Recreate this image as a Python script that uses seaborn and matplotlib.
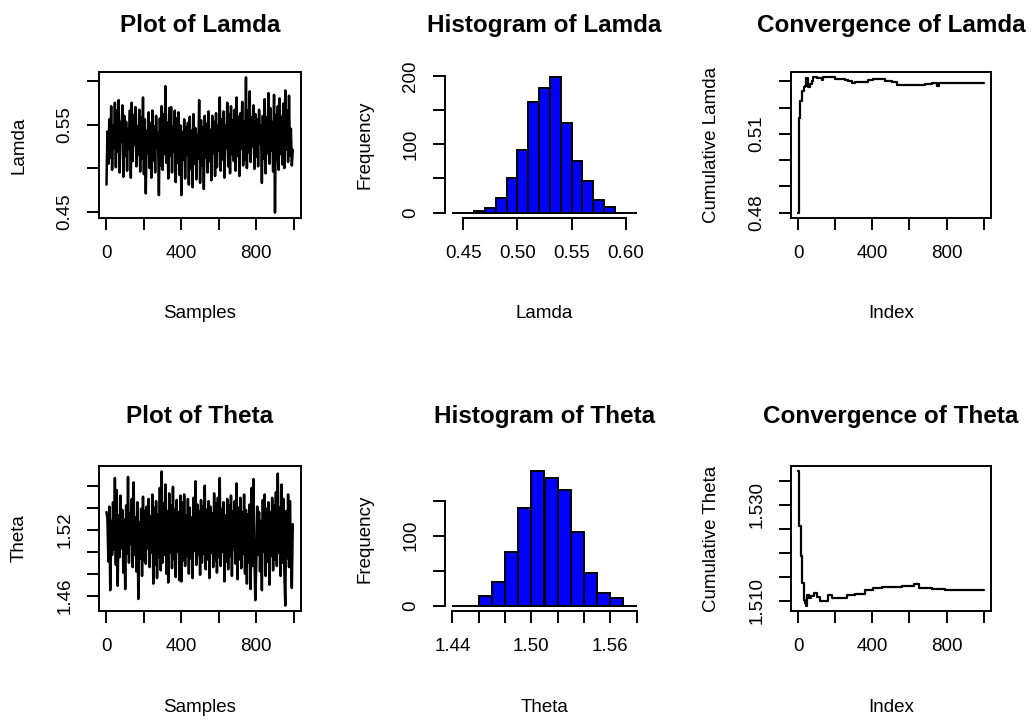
import numpy as np
import pandas as pd
import matplotlib
matplotlib.use("Agg")
import matplotlib.pyplot as plt
import seaborn as sns

# ---------------- data ----------------
N_SAMPLES = 1000
trace_index = list(range(1, N_SAMPLES, 5))  # every 5th MCMC draw

lamda_trace = [
    0.481, 0.542, 0.505, 0.556, 0.512, 0.571, 0.498, 0.549, 0.523, 0.575,
    0.501, 0.566, 0.519, 0.578, 0.495, 0.553, 0.531, 0.572, 0.490, 0.560,
    0.514, 0.553, 0.497, 0.545, 0.522, 0.566, 0.489, 0.575, 0.508, 0.561,
    0.527, 0.570, 0.502, 0.548, 0.515, 0.567, 0.496, 0.558, 0.511, 0.581,
    0.493, 0.556, 0.471, 0.543, 0.517, 0.564, 0.500, 0.552, 0.489, 0.566,
    0.509, 0.548, 0.495, 0.560, 0.522, 0.541, 0.469, 0.557, 0.503, 0.571,
    0.498, 0.562, 0.516, 0.594, 0.506, 0.552, 0.488, 0.569, 0.514, 0.570,
    0.495, 0.548, 0.519, 0.566, 0.484, 0.557, 0.506, 0.564, 0.492, 0.549,
    0.469, 0.541, 0.510, 0.556, 0.488, 0.547, 0.515, 0.552, 0.481, 0.559,
    0.499, 0.543, 0.478, 0.562, 0.505, 0.546, 0.487, 0.538, 0.511, 0.578,
    0.483, 0.555, 0.503, 0.547, 0.476, 0.560, 0.512, 0.551, 0.495, 0.565,
    0.508, 0.544, 0.486, 0.560, 0.517, 0.553, 0.491, 0.563, 0.501, 0.549,
    0.520, 0.581, 0.497, 0.556, 0.510, 0.565, 0.489, 0.549, 0.523, 0.575,
    0.502, 0.562, 0.494, 0.571, 0.516, 0.555, 0.508, 0.567, 0.497, 0.581,
    0.514, 0.559, 0.491, 0.563, 0.522, 0.576, 0.503, 0.553, 0.510, 0.604,
    0.500, 0.566, 0.518, 0.588, 0.507, 0.558, 0.525, 0.572, 0.499, 0.562,
    0.513, 0.556, 0.502, 0.567, 0.528, 0.549, 0.483, 0.560, 0.511, 0.579,
    0.494, 0.558, 0.517, 0.586, 0.505, 0.569, 0.520, 0.553, 0.496, 0.584,
    0.449, 0.561, 0.509, 0.571, 0.498, 0.580, 0.516, 0.559, 0.504, 0.574,
    0.500, 0.589, 0.521, 0.566, 0.507, 0.583, 0.514, 0.545, 0.503, 0.521,
]

theta_trace = [
    1.536, 1.530, 1.491, 1.541, 1.465, 1.528, 1.497, 1.545, 1.502, 1.567,
    1.488, 1.556, 1.469, 1.533, 1.495, 1.551, 1.503, 1.538, 1.481, 1.529,
    1.466, 1.542, 1.498, 1.568, 1.490, 1.535, 1.507, 1.548, 1.486, 1.563,
    1.497, 1.531, 1.482, 1.545, 1.457, 1.527, 1.494, 1.539, 1.478, 1.550,
    1.492, 1.537, 1.489, 1.541, 1.503, 1.548, 1.486, 1.532, 1.499, 1.552,
    1.471, 1.540, 1.488, 1.546, 1.476, 1.534, 1.495, 1.558, 1.483, 1.573,
    1.490, 1.544, 1.497, 1.561, 1.480, 1.537, 1.472, 1.553, 1.499, 1.542,
    1.485, 1.559, 1.493, 1.538, 1.477, 1.547, 1.500, 1.536, 1.474, 1.551,
    1.473, 1.545, 1.492, 1.552, 1.487, 1.533, 1.496, 1.548, 1.480, 1.540,
    1.494, 1.531, 1.476, 1.549, 1.501, 1.564, 1.488, 1.543, 1.497, 1.537,
    1.479, 1.547, 1.490, 1.541, 1.498, 1.560, 1.484, 1.538, 1.493, 1.546,
    1.476, 1.541, 1.499, 1.535, 1.486, 1.553, 1.492, 1.544, 1.481, 1.549,
    1.495, 1.567, 1.487, 1.539, 1.500, 1.545, 1.473, 1.533, 1.491, 1.548,
    1.484, 1.542, 1.496, 1.551, 1.478, 1.537, 1.502, 1.546, 1.489, 1.562,
    1.475, 1.540, 1.493, 1.549, 1.485, 1.536, 1.498, 1.552, 1.480, 1.538,
    1.471, 1.534, 1.490, 1.543, 1.466, 1.558, 1.487, 1.566, 1.494, 1.456,
    1.488, 1.541, 1.497, 1.536, 1.482, 1.528, 1.465, 1.547, 1.500, 1.552,
    1.478, 1.539, 1.491, 1.545, 1.470, 1.536, 1.496, 1.549, 1.483, 1.542,
    1.493, 1.554, 1.487, 1.571, 1.499, 1.540, 1.478, 1.561, 1.490, 1.548,
    1.482, 1.451, 1.537, 1.494, 1.552, 1.486, 1.546, 1.498, 1.467, 1.525,
]

lamda_edges = [0.44, 0.45, 0.46, 0.47, 0.48, 0.49, 0.50, 0.51, 0.52,
               0.53, 0.54, 0.55, 0.56, 0.57, 0.58, 0.59, 0.60, 0.61]
lamda_counts = [0, 0, 3, 6, 22, 50, 91, 162, 182, 198, 131, 75, 47, 18, 8, 0, 0]

theta_edges = [1.44, 1.45, 1.46, 1.47, 1.48, 1.49, 1.50, 1.51,
               1.52, 1.53, 1.54, 1.55, 1.56, 1.57, 1.58]
theta_counts = [0, 0, 14, 34, 76, 140, 192, 183, 165, 106, 46, 18, 11, 0]

lamda_conv_index = [1, 2, 9, 11, 18, 22, 29, 36, 43, 54, 63, 72, 81, 99, 126,
                    135, 153, 198, 216, 252, 270, 288, 306, 378, 405, 468, 504,
                    531, 612, 684, 720, 747, 757, 1000]
lamda_conv = [0.4800, 0.5162, 0.5168, 0.5226, 0.5230, 0.5264, 0.5277, 0.5283,
              0.5312, 0.5277, 0.5290, 0.5303, 0.5315, 0.5312, 0.5306, 0.5315,
              0.5315, 0.5309, 0.5309, 0.5306, 0.5303, 0.5294, 0.5299, 0.5306,
              0.5309, 0.5300, 0.5296, 0.5286, 0.5286, 0.5289, 0.5292, 0.5283,
              0.5294, 0.5294]

theta_conv_index = [1, 2, 13, 14, 18, 23, 31, 36, 41, 49, 58, 68, 86, 99, 117,
                    144, 162, 180, 225, 252, 261, 306, 360, 405, 450, 486, 559,
                    622, 649, 721, 784, 793, 901, 955, 1000]
theta_conv = [1.5369, 1.5256, 1.5256, 1.5194, 1.5177, 1.5136, 1.5101, 1.5095,
              1.5090, 1.5113, 1.5105, 1.5110, 1.5117, 1.5108, 1.5100, 1.5100,
              1.5112, 1.5105, 1.5105, 1.5105, 1.5112, 1.5115, 1.5122, 1.5127,
              1.5128, 1.5129, 1.5131, 1.5134, 1.5127, 1.5125, 1.5124, 1.5122,
              1.5122, 1.5123, 1.5122]

sample_ticks = [0, 200, 400, 600, 800, 1000]
sample_ticklabels = ["0", "", "400", "", "800", ""]

# ---------------- style ----------------
sns.set_style("ticks")
plt.rcParams["font.family"] = ["Liberation Sans", "DejaVu Sans"]
plt.rcParams["axes.linewidth"] = 1.4
plt.rcParams["text.color"] = "black"
plt.rcParams["axes.labelcolor"] = "black"
plt.rcParams["xtick.color"] = "black"
plt.rcParams["ytick.color"] = "black"

W, H = 1032, 722
fig = plt.figure(figsize=(W / 100, H / 100), dpi=100)
fig.patch.set_facecolor("white")

COL_LEFT = [99, 445, 791]
COL_W = [202, 199, 200]
ROW_TOP = [72, 466]
ROW_H = [146, 145]
TITLE_GAP = [40, 43]

TICK_FS = 13.5
LABEL_FS = 13.5
TITLE_FS = 17.5


def make_ax(r, c):
    left = COL_LEFT[c] / W
    bottom = 1 - (ROW_TOP[r] + ROW_H[r]) / H
    ax = fig.add_axes([left, bottom, COL_W[c] / W, ROW_H[r] / H])
    return ax


def r_lim(vals):
    lo, hi = min(vals), max(vals)
    d = (hi - lo) * 0.04
    return lo - d, hi + d


def style(ax, r, c, title, xlabel, ylabel):
    h = ROW_H[r]
    w = COL_W[c]
    ax.set_title(title, fontsize=TITLE_FS, fontweight="bold", pad=0,
                 y=1 + TITLE_GAP[r] / h, va="baseline", color="black")
    ax.set_xlabel(xlabel, fontsize=LABEL_FS, va="center", color="black")
    ax.set_ylabel(ylabel, fontsize=LABEL_FS, va="center", color="black")
    ax.xaxis.set_label_coords(0.5, -96 / h)
    ax.yaxis.set_label_coords(-80 / w, 0.5)
    ax.tick_params(axis="both", direction="out", length=8.5, width=1.4,
                   labelsize=TICK_FS, color="black", labelcolor="black")
    ax.tick_params(axis="x", pad=11)
    ax.tick_params(axis="y", pad=10, labelrotation=90)
    for lab in ax.get_yticklabels():
        lab.set_va("center")
        lab.set_ha("right")
    for s in ax.spines.values():
        s.set_color("black")
        s.set_linewidth(1.4)


def trace_panel(r, values, name, yticks, yticklabels):
    ax = make_ax(r, 0)
    sns.lineplot(x=trace_index, y=values, ax=ax, color="black",
                 linewidth=1.8, estimator=None, sort=False)
    ax.set_xlim(1 - 0.04 * (N_SAMPLES - 1), N_SAMPLES + 0.04 * (N_SAMPLES - 1))
    ax.set_ylim(*r_lim(values))
    ax.set_xticks(sample_ticks)
    ax.set_xticklabels(sample_ticklabels)
    ax.set_yticks(yticks)
    ax.set_yticklabels(yticklabels)
    style(ax, r, 0, f"Plot of {name}", "Samples", name)


def hist_panel(r, edges, counts, name, xticks, xticklabels, yticks, yticklabels):
    ax = make_ax(r, 1)
    centers = [(a + b) / 2 for a, b in zip(edges[:-1], edges[1:])]
    sns.histplot(x=centers, weights=counts, bins=edges, ax=ax,
                 color="#0000FF", edgecolor="black", linewidth=1.4, alpha=1)
    span = edges[-1] - edges[0]
    ax.set_xlim(edges[0] - 0.04 * span, edges[-1] + 0.04 * span)
    top = max(counts)
    ax.set_ylim(-0.04 * top, 1.04 * top)
    ax.set_xticks(xticks)
    ax.set_xticklabels(xticklabels)
    ax.set_yticks(yticks)
    ax.set_yticklabels(yticklabels)
    style(ax, r, 1, f"Histogram of {name}", name, "Frequency")
    ax.spines["top"].set_visible(False)
    ax.spines["right"].set_visible(False)
    ax.spines["bottom"].set_bounds(xticks[0], xticks[-1])
    ax.spines["left"].set_bounds(yticks[0], yticks[-1])


def conv_panel(r, idx, values, name, yticks, yticklabels):
    ax = make_ax(r, 2)
    sns.lineplot(x=idx, y=values, ax=ax, color="black", linewidth=1.6,
                 estimator=None, sort=False, drawstyle="steps-post")
    ax.set_xlim(1 - 0.04 * (N_SAMPLES - 1), N_SAMPLES + 0.04 * (N_SAMPLES - 1))
    ax.set_ylim(*r_lim(values))
    ax.set_xticks(sample_ticks)
    ax.set_xticklabels(sample_ticklabels)
    ax.set_yticks(yticks)
    ax.set_yticklabels(yticklabels)
    style(ax, r, 2, f"Convergence of {name}", "Index", f"Cumulative {name}")


trace_panel(0, lamda_trace, "Lamda", [0.45, 0.50, 0.55, 0.60],
            ["0.45", "", "0.55", ""])
trace_panel(1, theta_trace, "Theta", [1.46, 1.48, 1.50, 1.52, 1.54, 1.56],
            ["1.46", "", "", "1.52", "", ""])

hist_panel(0, lamda_edges, lamda_counts, "Lamda",
           [0.45, 0.50, 0.55, 0.60], ["0.45", "0.50", "0.55", "0.60"],
           [0, 50, 100, 150, 200], ["0", "", "100", "", "200"])
hist_panel(1, theta_edges, theta_counts, "Theta",
           [1.44, 1.46, 1.48, 1.50, 1.52, 1.54, 1.56, 1.58],
           ["1.44", "", "", "1.50", "", "", "1.56", ""],
           [0, 50, 100, 150], ["0", "", "100", ""])

conv_panel(0, lamda_conv_index, lamda_conv, "Lamda",
           [0.48, 0.49, 0.50, 0.51, 0.52, 0.53],
           ["0.48", "", "", "0.51", "", ""])
conv_panel(1, theta_conv_index, theta_conv, "Theta",
           [1.510, 1.515, 1.520, 1.525, 1.530, 1.535],
           ["1.510", "", "", "", "1.530", ""])

fig.savefig("out.png", dpi=100, facecolor="white")
